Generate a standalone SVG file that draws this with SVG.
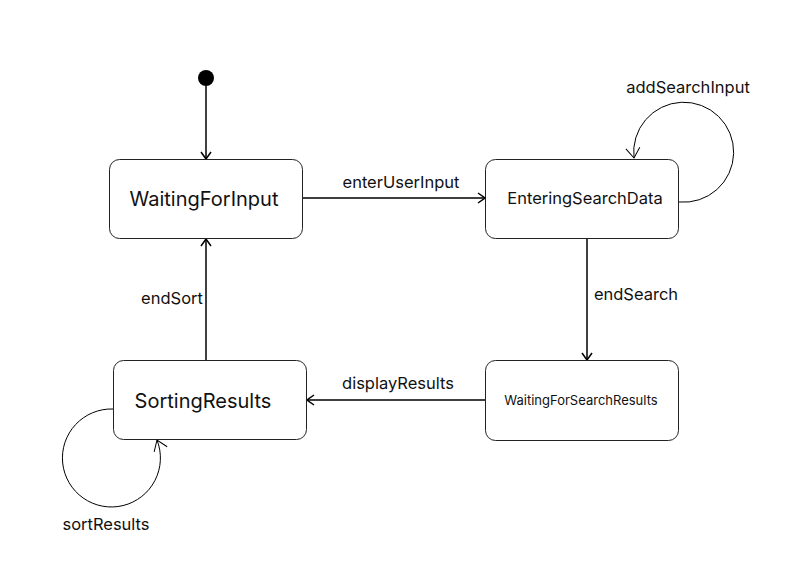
<svg xmlns="http://www.w3.org/2000/svg" width="793" height="567" viewBox="0 0 793 567">
<defs>
<style>
.state{fill:#fff;stroke:#222;stroke-width:1}
.name{font-family:Inter,"Liberation Sans",sans-serif;fill:#111;text-anchor:middle;dominant-baseline:central}
.lbl{font-family:Inter,"Liberation Sans",sans-serif;font-size:16.5px;fill:#111;text-anchor:middle}
.edge{fill:none;stroke:#000;stroke-width:1.5}
.loop{fill:none;stroke:#000;stroke-width:1}
</style>
<marker id="arr" viewBox="0 0 12 12" refX="11" refY="6" markerWidth="12" markerHeight="12" markerUnits="userSpaceOnUse" orient="auto">
<polyline points="4,1 11,6 4,11" fill="none" stroke="#000" stroke-width="1.5"/>
</marker>
<marker id="arr2" viewBox="0 0 16 16" refX="15" refY="8" markerWidth="16" markerHeight="16" markerUnits="userSpaceOnUse" orient="auto">
<polyline points="5,1 15,8 5,15" fill="none" stroke="#000" stroke-width="1"/>
</marker>
</defs>
<rect width="793" height="567" fill="#fff"/>
<g id="connectors">
<line class="edge" x1="206" y1="86" x2="206" y2="159" marker-end="url(#arr)"/>
<line class="edge" x1="302" y1="198" x2="485" y2="198" marker-end="url(#arr)"/>
<line class="edge" x1="587" y1="238" x2="587" y2="360" marker-end="url(#arr)"/>
<line class="edge" x1="485" y1="400" x2="307" y2="400" marker-end="url(#arr)"/>
<line class="edge" x1="206" y1="360" x2="206" y2="239" marker-end="url(#arr)"/>
<path class="loop" d="M679,202 A50,50 0 1 0 634,158" marker-end="url(#arr2)"/>
<path class="loop" d="M113,409 A49,49 0 1 0 157,440" marker-end="url(#arr2)"/>
<text class="lbl" x="401" y="188">enterUserInput</text>
<text class="lbl" x="636" y="300">endSearch</text>
<text class="lbl" x="398" y="389">displayResults</text>
<text class="lbl" x="172" y="304">endSort</text>
<text class="lbl" x="688" y="93">addSearchInput</text>
<text class="lbl" x="106" y="530">sortResults</text>
</g>
<g id="initial"><circle cx="206" cy="78" r="8" fill="#000"/></g>
<g id="WaitingForInput">
<rect class="state" x="109.5" y="159.5" width="193" height="79" rx="10"/>
<text class="name" x="204" y="199" font-size="20">WaitingForInput</text>
</g>
<g id="EnteringSearchData">
<rect class="state" x="485.5" y="159.5" width="193" height="79" rx="10"/>
<text class="name" x="585" y="198" font-size="16.5">EnteringSearchData</text>
</g>
<g id="WaitingForSearchResults">
<rect class="state" x="485.5" y="360.5" width="193" height="80" rx="10"/>
<text class="name" x="581" y="400" font-size="13">WaitingForSearchResults</text>
</g>
<g id="SortingResults">
<rect class="state" x="113.5" y="360.5" width="193" height="79" rx="10"/>
<text class="name" x="203" y="401" font-size="20">SortingResults</text>
</g>
</svg>
